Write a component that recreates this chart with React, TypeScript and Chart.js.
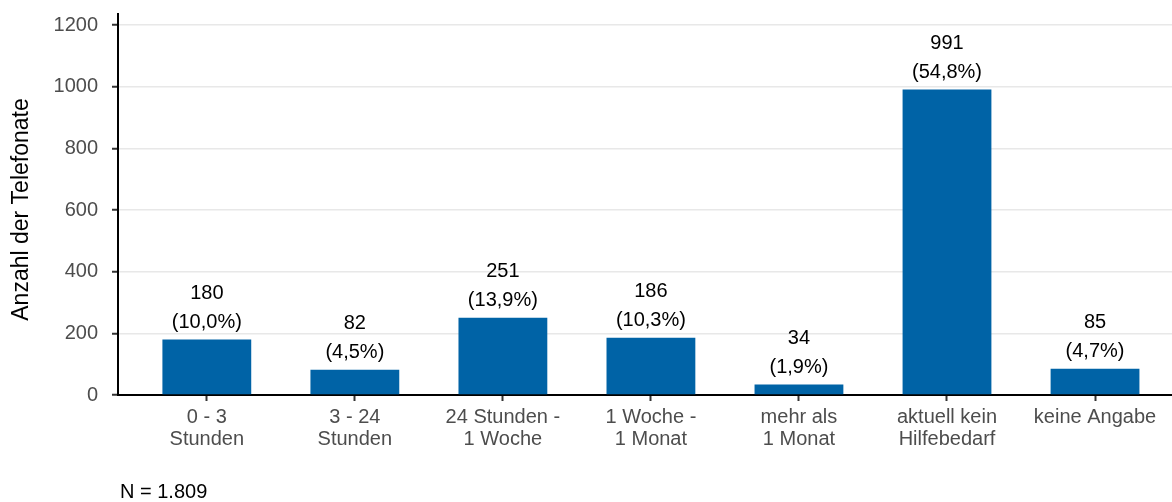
import React, { useEffect, useRef } from "react";
import { Chart, registerables } from "chart.js";

Chart.register(...registerables);

const CATEGORIES: string[][] = [
  ["0 - 3", "Stunden"],
  ["3 - 24", "Stunden"],
  ["24 Stunden -", "1 Woche"],
  ["1 Woche -", "1 Monat"],
  ["mehr als", "1 Monat"],
  ["aktuell kein", "Hilfebedarf"],
  ["keine Angabe"],
];
const VALUES: number[] = [180, 82, 251, 186, 34, 991, 85];
const PERCENT_LABELS: string[] = ["(10,0%)", "(4,5%)", "(13,9%)", "(10,3%)", "(1,9%)", "(54,8%)", "(4,7%)"];
const Y_TICKS: number[] = [0, 200, 400, 600, 800, 1000, 1200];
const Y_TITLE = "Anzahl der Telefonate";
const FOOTNOTE = "N = 1.809";

const FONT = "'Liberation Sans', Arial, sans-serif";

export default function App() {
  const ref = useRef<HTMLCanvasElement | null>(null);

  useEffect(() => {
    if (!ref.current) return;
    const labelPlugin = {
      id: "valueLabels",
      afterDatasetsDraw(chart: any) {
        const ctx = chart.ctx;
        const meta = chart.getDatasetMeta(0);
        ctx.save();
        ctx.fillStyle = "#000000";
        ctx.font = `20px ${FONT}`;
        ctx.textAlign = "center";
        ctx.textBaseline = "middle";
        meta.data.forEach((bar: any, i: number) => {
          ctx.fillText(String(VALUES[i]), bar.x, bar.y - 46);
          ctx.fillText(PERCENT_LABELS[i], bar.x, bar.y - 17);
        });
        ctx.restore();
      },
      afterDraw(chart: any) {
        const ctx = chart.ctx;
        const area = chart.chartArea;
        ctx.save();
        ctx.fillStyle = "#000000";
        ctx.font = `23px ${FONT}`;
        ctx.textAlign = "center";
        ctx.textBaseline = "middle";
        ctx.translate(22, (area.top + area.bottom) / 2 + 5);
        ctx.rotate(-Math.PI / 2);
        ctx.fillText(Y_TITLE, 0, 0);
        ctx.restore();
        ctx.save();
        ctx.fillStyle = "#000000";
        ctx.font = `20px ${FONT}`;
        ctx.textAlign = "left";
        ctx.textBaseline = "middle";
        ctx.fillText(FOOTNOTE, 120, 492);
        ctx.restore();
      },
    };

    const chart = new Chart(ref.current, {
      type: "bar",
      data: {
        datasets: [
          {
            data: VALUES.map((v, i) => ({ x: i, y: v })),
            backgroundColor: "#0063a6",
            borderWidth: 0,
            categoryPercentage: 1,
            barPercentage: 0.6,
          },
        ],
      },
      options: {
        responsive: false,
        animation: false,
        layout: { padding: { top: 14, left: 0, right: 0, bottom: 0 } },
        plugins: {
          legend: { display: false },
          tooltip: { enabled: false },
          title: { display: false },
        },
        scales: {
          x: {
            type: "linear",
            offset: false,
            min: -0.6,
            max: 6.52,
            afterBuildTicks: (scale: any) => {
              scale.ticks = CATEGORIES.map((_, i) => ({ value: i }));
            },
            afterFit: (scale: any) => {
              scale.height = 107;
              scale.paddingLeft = 0;
              scale.paddingRight = 0;
            },
            ticks: {
              autoSkip: false,
              maxRotation: 0,
              padding: 5,
              color: "#4d4d4d",
              font: { family: FONT, size: 20, lineHeight: 1.1 },
              callback: (value: any) => CATEGORIES[Math.round(Number(value))] ?? "",
            },
            grid: {
              offset: false,
              drawOnChartArea: false,
              drawTicks: true,
              tickLength: 6,
              tickColor: "#333333",
              tickWidth: 2,
            },
            border: { display: true, color: "#000000", width: 2 },
          },
          y: {
            type: "linear",
            min: 0,
            max: 1236,
            afterBuildTicks: (scale: any) => {
              scale.ticks = Y_TICKS.map((v) => ({ value: v }));
            },
            afterFit: (scale: any) => {
              scale.width = 118;
              scale.paddingTop = 0;
              scale.paddingBottom = 0;
            },
            ticks: {
              padding: 14,
              color: "#4d4d4d",
              font: { family: FONT, size: 20 },
              callback: (value: any) => String(value),
            },
            grid: {
              color: "#e8e8e8",
              lineWidth: 1.5,
              drawTicks: true,
              tickLength: 6,
              tickColor: "#333333",
              tickWidth: 2,
            },
            border: { display: true, color: "#000000", width: 2 },
          },
        },
      },
      plugins: [labelPlugin],
    });
    return () => chart.destroy();
  }, []);

  return (
    <div style={{ position: "absolute", left: 0, top: 0, width: 1172, height: 502, background: "#ffffff" }}>
      <canvas ref={ref} width={1172} height={502} style={{ display: "block" }} />
    </div>
  );
}
